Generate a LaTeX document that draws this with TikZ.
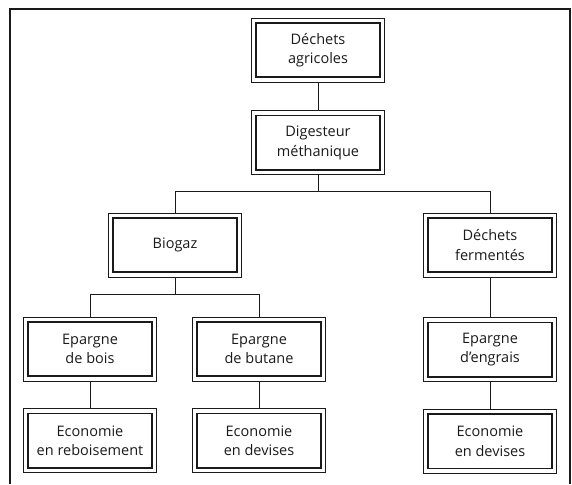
\documentclass[tikz,border=0pt]{standalone}
\usepackage{fontspec}
\setmainfont{Open Sans}
\usepackage{tikz}
\usetikzlibrary{positioning}
\definecolor{inkdark}{HTML}{1a1a1a}
\tikzset{
  stagebox/.style={
    draw=inkdark, line width=0.7pt, minimum width=133pt, minimum height=64pt,
    inner sep=0pt, align=center, text=inkdark,
    font=\fontsize{14.5}{19.5}\selectfont,
    path picture={
      \draw[inkdark, line width=1.7pt]
        ([shift={(4.8pt,-4.8pt)}]path picture bounding box.north west) rectangle
        ([shift={(-4.8pt,4.8pt)}]path picture bounding box.south east);
    }
  },
  linkline/.style={draw=inkdark, line width=0.9pt}
}
\begin{document}
\begin{tikzpicture}[x=1pt, y=-1pt, node distance=28pt]
  \useasboundingbox (0,0) rectangle (572,484);
  % open frame
  \draw[inkdark, line width=1.4pt] (10,484) -- (10,9) -- (570,9) -- (570,484);

  \node[stagebox] (agri) at (318,50) {Déchets\\agricoles};
  \node[stagebox, below=of agri] (digest) {Digesteur\\méthanique};
  \node[stagebox] (biogaz) at (175,245) {Biogaz};
  \node[stagebox] (ferment) at (490,245) {Déchets\\fermentés};
  \node[stagebox] (bois) at (90,349) {Epargne\\de bois};
  \node[stagebox] (butane) at (259,349) {Epargne\\de butane};
  \node[stagebox, below=40pt of ferment] (engrais) {Epargne\\d'engrais};
  \node[stagebox, below=27pt of bois] (reboise) {Economie\\en reboisement};
  \node[stagebox, below=27pt of butane] (devisesA) {Economie\\en devises};
  \node[stagebox, below=27pt of engrais] (devisesB) {Economie\\en devises};

  % connectors
  \draw[linkline] (agri) -- (digest);
  \draw[linkline] (digest.south) -- ++(0,16) coordinate (fork) -| (biogaz.north);
  \draw[linkline] (fork) -| (ferment.north);
  \draw[linkline] (biogaz.south) -- ++(0,17) coordinate (split) -| (bois.north);
  \draw[linkline] (split) -| (butane.north);
  \draw[linkline] (ferment) -- (engrais);
  \draw[linkline] (engrais) -- (devisesB);
  \draw[linkline] (bois) -- (reboise);
  \draw[linkline] (butane) -- (devisesA);
\end{tikzpicture}
\end{document}
